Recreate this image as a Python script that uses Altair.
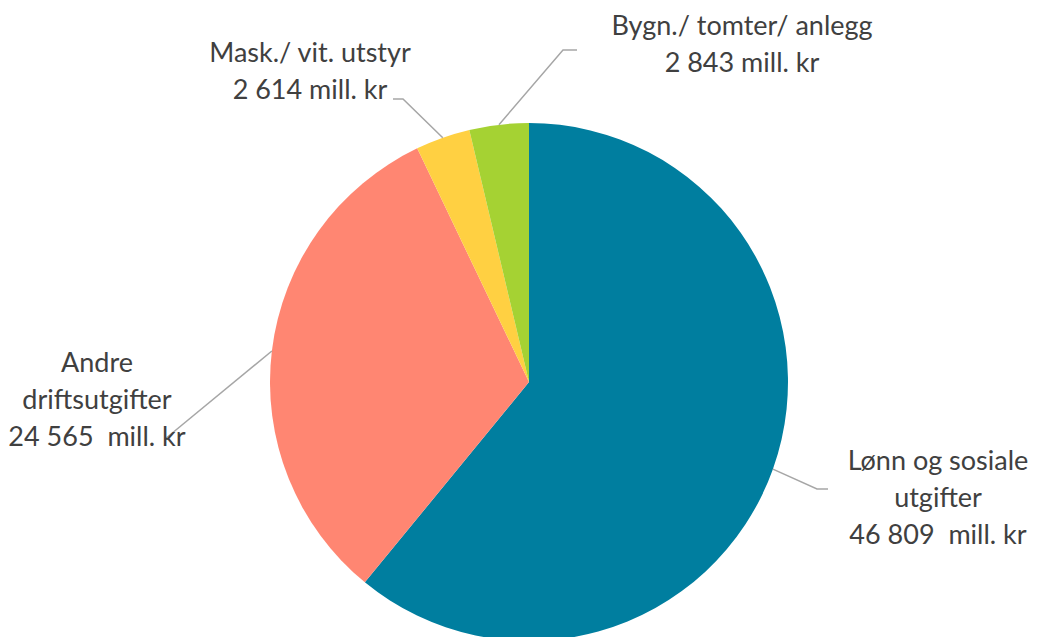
import math
import altair as alt
import pandas as pd

# ---- data ----
categories = ["Lønn og sosiale utgifter", "Andre driftsutgifter", "Mask./ vit. utstyr", "Bygn./ tomter/ anlegg"]
values = [46809, 24565, 2614, 2843]
label_names = ["Lønn og sosiale\nutgifter", "Andre\ndriftsutgifter", "Mask./ vit. utstyr", "Bygn./ tomter/ anlegg"]
label_units = ["\u00a0 mill. kr", "\u00a0 mill. kr", " mill. kr", " mill. kr"]
colors = ["#007E9F", "#FF8672", "#FFD042", "#A5D233"]

# ---- layout (view pixel coordinates) ----
W, H = 1021, 629
CX, CY, R = 521, 374, 259
label_x = [930, 89, 302, 734]
label_y = [462, 364, 54, 27]          # first-line baseline
elbow_x = [809, 157, 395, 555]
elbow_y = [481, 431, 91, 42]
end_x = [820, 157, 385, 569]
end_y = [481, 431, 91, 42]

total = sum(values)
pie = pd.DataFrame({"cat": categories, "value": values, "idx": list(range(len(values)))})

# leader lines: start at slice mid-angle on the rim
rows = []
cum = 0
for i, v in enumerate(values):
    mid = (cum + v / 2) / total * 2 * math.pi
    cum += v
    sx = CX + R * math.sin(mid)
    sy = CY - R * math.cos(mid)
    rows += [
        {"cat": categories[i], "k": 0, "x": sx, "y": sy},
        {"cat": categories[i], "k": 1, "x": elbow_x[i], "y": elbow_y[i]},
        {"cat": categories[i], "k": 2, "x": end_x[i], "y": end_y[i]},
    ]
lines = pd.DataFrame(rows)

labels = pd.DataFrame({
    "cat": categories,
    "text": [n + "\n" + f"{v:,}".replace(",", " ") + u for n, v, u in zip(label_names, values, label_units)],
    "x": label_x,
    "y": label_y,
})

xs = alt.Scale(domain=[0, W], nice=False, zero=False)
ys = alt.Scale(domain=[0, H], nice=False, zero=False, reverse=True)

arc = alt.Chart(pie).mark_arc(radius=R, strokeWidth=0).encode(
    theta=alt.Theta("value:Q", stack=True),
    color=alt.Color("cat:N", scale=alt.Scale(domain=categories, range=colors), legend=None),
    order=alt.Order("idx:Q"),
    x=alt.value(CX),
    y=alt.value(CY),
)

leader = alt.Chart(lines).mark_line(color="#A6A6A6", strokeWidth=1.5).encode(
    x=alt.X("x:Q", scale=xs, axis=None),
    y=alt.Y("y:Q", scale=ys, axis=None),
    detail="cat:N",
    order="k:Q",
)

text = alt.Chart(labels).mark_text(
    lineBreak="\n", align="center", baseline="alphabetic", lineHeight=37,
    font="Lato", fontSize=27, color="#404040",
).encode(
    x=alt.X("x:Q", scale=xs, axis=None),
    y=alt.Y("y:Q", scale=ys, axis=None),
    text="text:N",
)

chart = alt.layer(arc, leader, text).properties(
    width=W, height=H, autosize=alt.AutoSizeParams(type="none"), padding=0,
).configure_view(stroke=None)

chart.save("out.html", embed_options={"renderer": "svg", "actions": False})
